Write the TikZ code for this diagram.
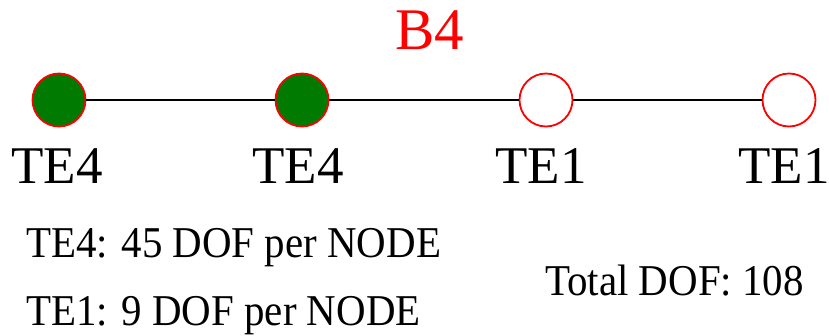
\documentclass[tikz,border=0pt]{standalone}
\usepackage{fontspec}
\setmainfont{Liberation Serif}
\definecolor{nodegreen}{RGB}{0,122,0}
\begin{document}
\begin{tikzpicture}[x=1pt,y=-1pt,
  fullnode/.style={circle,draw=red,fill=nodegreen,line width=1.8pt,minimum size=53pt,inner sep=0pt},
  emptynode/.style={circle,draw=red,fill=white,line width=1.8pt,minimum size=53pt,inner sep=0pt},
  lbl/.style={anchor=base,inner sep=0pt,font=\fontsize{53}{60}\selectfont},
  note/.style={anchor=base west,inner sep=0pt,font=\fontsize{44}{50}\selectfont},
  link/.style={line width=2pt,black}]
\useasboundingbox (0,0) rectangle (829,335);
\node[anchor=base,inner sep=0pt,text=red,font=\fontsize{59}{66}\selectfont] (title) at (430,49) {B4};
\node[fullnode] (n1) at (59,100) {};
\node[fullnode] (n2) at (302,100) {};
\node[emptynode] (n3) at (546,100) {};
\node[emptynode] (n4) at (789,100) {};
\draw[link] (n1) -- (n2);
\draw[link] (n2) -- (n3);
\draw[link] (n3) -- (n4);
\node[lbl] (l1) at (57,183) {TE4};
\node[lbl] (l2) at (298,183) {TE4};
\node[lbl] (l3) at (541,183) {TE1};
\node[lbl] (l4) at (784,183) {TE1};
\node[note] (t1) at (26,257) {\scalebox{0.93}[1]{TE4: 45 DOF per NODE}};
\node[note] (t2) at (26,325) {\scalebox{0.93}[1]{TE1: 9 DOF per NODE}};
\node[note] (t3) at (545,295) {\scalebox{0.93}[1]{Total DOF: 108}};
\end{tikzpicture}
\end{document}
